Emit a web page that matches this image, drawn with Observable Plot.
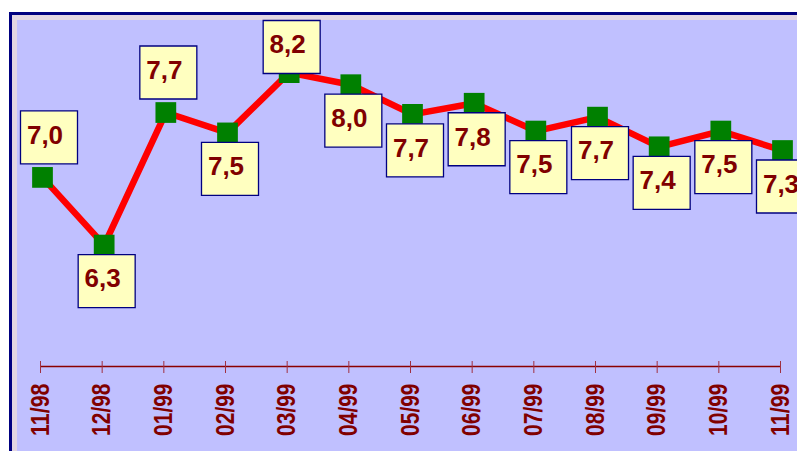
<!DOCTYPE html>
<html>
<head>
<meta charset="utf-8">
<script src="https://cdn.jsdelivr.net/npm/d3@7"></script>
<script src="https://cdn.jsdelivr.net/npm/@observablehq/plot@0.6"></script>
<style>
  html, body { margin: 0; padding: 0; background: #ffffff; overflow: hidden; }
  #stage { position: relative; width: 797px; height: 451px; overflow: hidden; }
  #outer { position: absolute; left: 9px; top: 12px; width: 900px; height: 600px;
           border-left: 3px solid #000080; border-top: 3px solid #000080; background: #e2d6e2; }
  #inner { position: absolute; left: 5px; top: 5px; right: 0; bottom: 0; background: #c0c0ff; }
  #chart { position: absolute; left: 0; top: 0; }
  #chart svg { background: transparent; }
  #chart g[aria-label="x-axis tick label"] text { font-weight: bold; }
</style>
</head>
<body>
<div id="stage">
  <div id="outer"><div id="inner"></div></div>
  <div id="chart"></div>
</div>
<script>
// ---- data ----
const months = ["11/98","12/98","01/99","02/99","03/99","04/99","05/99","06/99","07/99","08/99","09/99","10/99","11/99"];
const rates  = [7.04, 6.31, 7.74, 7.52, 8.17, 8.04, 7.72, 7.84, 7.54, 7.69, 7.37, 7.54, 7.33];
const labelAbove = ["11/98","01/99","03/99"];

const fmt = v => d3.format(".1f")(v).replace(".", ",");
const data = months.map((m, i) => ({i, month: m, rate: rates[i], above: labelAbove.includes(m)}));

// layout
const W = 797, H = 451;
const mL = 40, mR = 17, mT = 18.4, mB = 85;
const yDomain = [5, 8.75];
const xs = d3.scaleLinear([0, months.length - 1], [mL, W - mR]);
const ys = d3.scaleLinear(yDomain, [H - mB, mT]);

// label boxes: kept inside the plot area like the original
const labels = data.map(d => {
  const bx = Math.max(xs(d.i) + 4.5, 48.5);
  const py = ys(d.rate);
  const by = d.above ? Math.max(py - 40, 46.5) : py + 36;
  return {...d, bx: xs.invert(bx), by: ys.invert(by)};
});

const boxSymbol = { draw(ctx) { ctx.rect(-28.5, -26.5, 57, 53); } };
const font = "'Liberation Sans', Arial, sans-serif";

const plot = Plot.plot({
  width: W, height: H,
  marginLeft: mL, marginRight: mR, marginTop: mT, marginBottom: mB,
  style: {background: "transparent", fontFamily: font, overflow: "hidden"},
  x: {domain: [0, months.length - 1]},
  y: {domain: yDomain, axis: null},
  marks: [
    Plot.ruleY([yDomain[0]], {stroke: "#8b0000", strokeWidth: 1.3}),
    Plot.axisX({
      ticks: d3.range(months.length),
      tickFormat: i => months[i],
      tickRotate: -90,
      tickSize: 12,
      tickPadding: 10,
      dy: -5,
      fontSize: 25,
      fontWeight: "bold",
      color: "#800000",
      stroke: "#a03040",
      label: null
    }),
    Plot.line(data, {x: "i", y: "rate", dx: 2, stroke: "#ff0000", strokeWidth: 6.5, strokeLinejoin: "miter"}),
    Plot.dot(data, {x: "i", y: "rate", dx: 2, symbol: "square", r: 11.7, fill: "#008000", stroke: null}),
    Plot.dot(labels, {x: "bx", y: "by", symbol: boxSymbol, r: 10, fill: "#ffffc0", stroke: "#000080", strokeWidth: 1.3}),
    Plot.text(labels, {x: "bx", y: "by", text: d => fmt(d.rate), dx: -4, dy: -2,
      fontSize: 26, fontWeight: "bold", fill: "#800000", fontFamily: font})
  ]
});
// the original's axis labels are set in a narrow face: compress them to the same length
plot.querySelectorAll('g[aria-label="x-axis tick label"] text').forEach(t => {
  t.setAttribute("textLength", 52.4);
  t.setAttribute("lengthAdjust", "spacingAndGlyphs");
});
document.getElementById("chart").appendChild(plot);
</script>
</body>
</html>
